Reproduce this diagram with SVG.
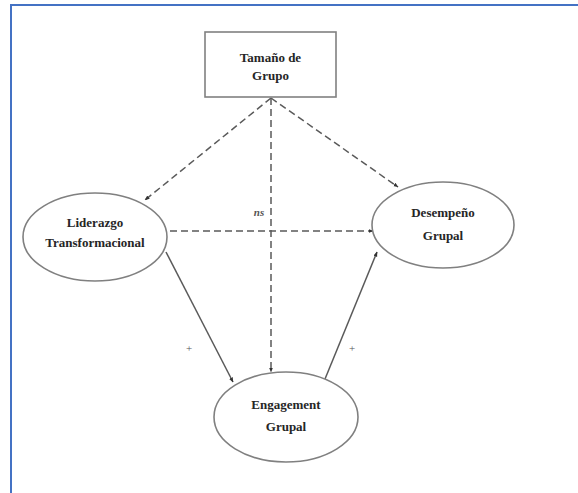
<svg xmlns="http://www.w3.org/2000/svg" width="578" height="493" viewBox="0 0 578 493">
  <style>
    .node { fill: #ffffff; stroke: #808080; stroke-width: 1.6; }
    .lbl { font-family: "Liberation Serif", "DejaVu Serif", "Times New Roman", Times, serif; font-weight: bold; font-size: 13px; fill: #262626; text-anchor: middle; }
    .edge { fill: none; stroke: #5a5a5a; stroke-width: 1.5; }
    .dash { stroke-dasharray: 7 4; }
    .sign { font-family: "Liberation Serif", "DejaVu Serif", "Times New Roman", Times, serif; font-size: 11px; fill: #555555; text-anchor: middle; }
  </style>
  <defs>
    <marker id="arrow" viewBox="0 0 10 10" refX="9" refY="5" markerWidth="5" markerHeight="5" orient="auto-start-reverse" markerUnits="userSpaceOnUse">
      <path d="M0,1 L10,5 L0,9 z" fill="#333333"/>
    </marker>
  </defs>

  <rect x="0" y="0" width="578" height="493" fill="#ffffff"/>
  <!-- frame -->
  <path d="M11,493 L11,5 L578,5" fill="none" stroke="#4472c4" stroke-width="2"/>

  <g id="connectors">
    <line class="edge dash" x1="271" y1="98" x2="145" y2="200" marker-end="url(#arrow)"/>
    <line class="edge dash" x1="271" y1="98" x2="398" y2="187" marker-end="url(#arrow)"/>
    <line class="edge dash" x1="271" y1="98" x2="271" y2="372" marker-end="url(#arrow)"/>
    <line class="edge dash" x1="170" y1="231" x2="373" y2="231" marker-end="url(#arrow)"/>
    <line class="edge" x1="166" y1="252" x2="233" y2="382" marker-end="url(#arrow)"/>
    <line class="edge" x1="325" y1="379" x2="377" y2="252" marker-end="url(#arrow)"/>
    <text class="sign" x="259" y="216" font-style="italic" font-weight="bold">ns</text>
    <text class="sign" x="189" y="352">+</text>
    <text class="sign" x="352" y="352">+</text>
  </g>

  <g id="tamano">
    <rect class="node" x="205" y="32" width="131" height="65"/>
    <text class="lbl" x="270.5" y="62">Tamaño de</text>
    <text class="lbl" x="270.5" y="80">Grupo</text>
  </g>

  <g id="liderazgo">
    <ellipse class="node" cx="95" cy="237" rx="72" ry="44"/>
    <text class="lbl" x="95" y="227">Liderazgo</text>
    <text class="lbl" x="95" y="247">Transformacional</text>
  </g>

  <g id="desempeno">
    <ellipse class="node" cx="443" cy="225" rx="71" ry="43"/>
    <text class="lbl" x="443" y="217">Desempeño</text>
    <text class="lbl" x="443" y="240">Grupal</text>
  </g>

  <g id="engagement">
    <ellipse class="node" cx="286" cy="417" rx="72" ry="45"/>
    <text class="lbl" x="286" y="409">Engagement</text>
    <text class="lbl" x="286" y="431">Grupal</text>
  </g>
</svg>
